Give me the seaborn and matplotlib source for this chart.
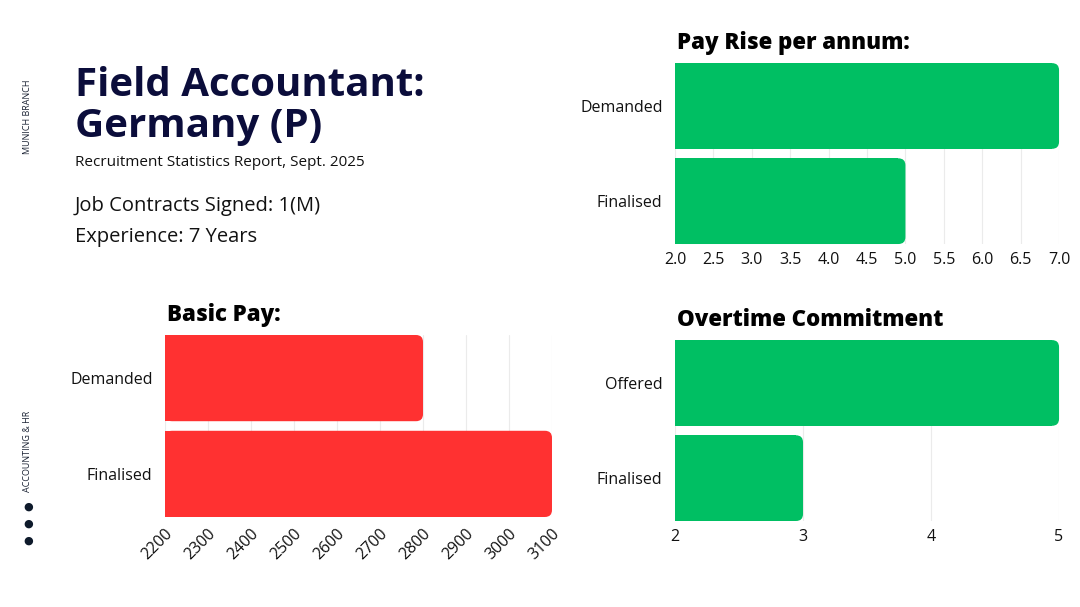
import matplotlib
matplotlib.use("Agg")
import matplotlib.pyplot as plt
import seaborn as sns
import pandas as pd
from matplotlib.patches import FancyBboxPatch, Rectangle

# data
pay_rise_labels = ["Demanded", "Finalised"]
pay_rise_values = [7.0, 5.0]
pay_rise_ticks = [2.0, 2.5, 3.0, 3.5, 4.0, 4.5, 5.0, 5.5, 6.0, 6.5, 7.0]

basic_pay_labels = ["Demanded", "Finalised"]
basic_pay_values = [2800, 3100]
basic_pay_ticks = [2200, 2300, 2400, 2500, 2600, 2700, 2800, 2900, 3000, 3100]

overtime_labels = ["Offered", "Finalised"]
overtime_values = [5, 3]
overtime_ticks = [2, 3, 4, 5]

GREEN = "#00BF63"
RED = "#FF3131"
NAVY = "#0B0D3B"

sns.set_style("white")
plt.rcParams["font.family"] = ["Open Sans", "DejaVu Sans"]

fig = plt.figure(figsize=(10.8, 6.07), dpi=100)
fig.patch.set_facecolor("white")


def round_bars(ax, color, radius_px=7):
    # swap seaborn's rectangles for ones with rounded right ends
    fig.canvas.draw()
    x0, x1 = ax.get_xlim()
    y0, y1 = ax.get_ylim()
    bb = ax.get_window_extent()
    xpp = (x1 - x0) / bb.width
    ypp = abs(y1 - y0) / bb.height
    r = radius_px * xpp
    for p in list(ax.patches):
        x, y, w, h = p.get_x(), p.get_y(), p.get_width(), p.get_height()
        p.remove()
        start = max(x, x0)
        end = x + w
        ax.add_patch(FancyBboxPatch((start, y), end - start, h,
                                    boxstyle=f"round,pad=0,rounding_size={r}",
                                    mutation_aspect=ypp / xpp,
                                    facecolor=color, edgecolor="none",
                                    zorder=2, clip_on=False))
        ax.add_patch(Rectangle((start, y), end - start - r, h, facecolor=color,
                               edgecolor="none", zorder=2, clip_on=False))


def bar_panel(rect, labels, values, ticks, color, title, rotate=False):
    ax = fig.add_axes(rect)
    df = pd.DataFrame({"label": labels, "value": values})
    sns.barplot(data=df, x="value", y="label", color=color, width=0.9,
                saturation=1, ax=ax, zorder=2)
    ax.set_xlim(ticks[0], ticks[-1])
    ax.set_ylim(1.45, -0.45)
    ax.set_xticks(ticks)
    ax.set_xlabel("")
    ax.set_ylabel("")
    for s in ax.spines.values():
        s.set_visible(False)
    ax.grid(axis="x", color="#EBEBEB", linewidth=0.8, zorder=0)
    ax.set_axisbelow(True)
    ax.tick_params(axis="both", length=0, labelsize=11.5, colors="#111111")
    ax.tick_params(axis="y", pad=9)
    ax.tick_params(axis="x", pad=6)
    if rotate:
        ax.set_xticklabels([str(t) for t in ticks], rotation=45, ha="right",
                           rotation_mode="anchor", fontsize=11.5)
    ax.set_title(title, loc="left", fontsize=16, fontweight="heavy",
                 color="#000000", pad=10, x=0.005)
    round_bars(ax, color)
    return ax


bar_panel([0.625, 0.598, 0.3556, 0.298], pay_rise_labels, pay_rise_values,
          pay_rise_ticks, GREEN, "Pay Rise per annum:")
bar_panel([0.625, 0.1417, 0.3556, 0.298], overtime_labels, overtime_values,
          overtime_ticks, GREEN, "Overtime Commitment")
bar_panel([0.1528, 0.1483, 0.3583, 0.2998], basic_pay_labels, basic_pay_values,
          basic_pay_ticks, RED, "Basic Pay:", rotate=True)

# header text
fig.text(75 / 1080, 1 - 106 / 607, "Field Accountant:\nGermany (P)",
         fontsize=29, fontweight="bold", color=NAVY, va="center", ha="left",
         linespacing=1.05)
fig.text(75 / 1080, 1 - 162 / 607, "Recruitment Statistics Report, Sept. 2025",
         fontsize=11, color="#111111", va="center", ha="left")
fig.text(75 / 1080, 1 - 206 / 607, "Job Contracts Signed: 1(M)",
         fontsize=14.5, color="#111111", va="center", ha="left")
fig.text(75 / 1080, 1 - 237 / 607, "Experience: 7 Years",
         fontsize=14.5, color="#111111", va="center", ha="left")

# side labels
fig.text(28 / 1080, 1 - 117 / 607, "MUNICH BRANCH", rotation=90, fontsize=6.5,
         color="#1A2233", va="center", ha="center")
fig.text(28 / 1080, 1 - 451 / 607, "ACCOUNTING & HR", rotation=90, fontsize=6.5,
         color="#1A2233", va="center", ha="center")
for yy in [507, 524, 541]:
    fig.text(28 / 1080, 1 - yy / 607, "\u25CF", fontsize=8, color="#0E1A2B",
             va="center", ha="center", family=["DejaVu Sans"])

fig.savefig("out.png", dpi=100, facecolor="white")
